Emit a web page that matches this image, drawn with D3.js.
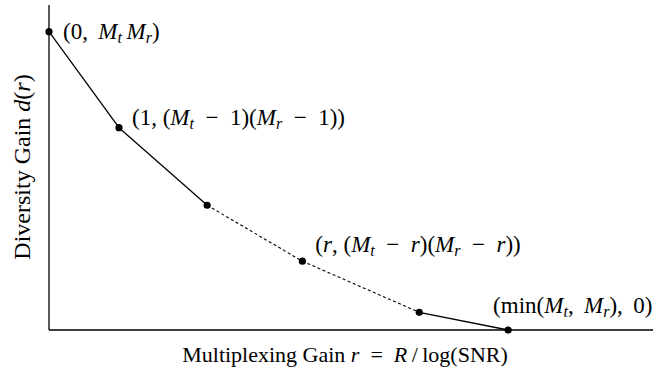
<!DOCTYPE html>
<html><head><meta charset="utf-8">
<script src="https://cdn.jsdelivr.net/npm/d3@7"></script>
<style>
html,body{margin:0;padding:0;background:#fff;}
</style></head><body>
<svg id="c" width="653" height="373"></svg>
<script>
// Data (schematic units)
const rValues = [0, 1, 2.26, 3.62, 5.29, 6.56];
const dValues = [16, 10.85, 6.69, 3.69, 0.95, 0];
const segmentDashed = [false, false, true, true, false];
const SP = "\u2002"; // en space (math spacing)
const TH = "\u2009"; // thin space
const pointLabels = [
  {i: 0, parts: [["(0,"+TH+" ",""],["M","i"],["t","sub"],[TH,""],["M","i"],["r","sub"],[")",""]]},
  {i: 1, parts: [["(1, (",""],["M","i"],["t","sub"],[SP+"−"+SP+"1)(",""],["M","i"],["r","sub"],[SP+"−"+SP+"1))",""]]},
  {i: 3, parts: [["(",""],["r","i"],[", (",""],["M","i"],["t","sub"],[SP+"−"+SP,""],["r","i"],[")(",""],["M","i"],["r","sub"],[SP+"−"+SP,""],["r","i"],["))",""]]},
  {i: 5, parts: [["(min(",""],["M","i"],["t","sub"],[","+TH+" ",""],["M","i"],["r","sub"],["),"+TH+" 0)",""]]}
];
const xTitle = [["Multiplexing Gain ",""],["r","i"],[SP+"="+SP,""],["R","i"],["\u2009/\u2009log(SNR)",""]];
const yTitle = [["Diversity Gain ",""],["d","i"],["(",""],["r","i"],[")",""]];

const FONT = "'Liberation Serif', 'DejaVu Serif', 'Times New Roman', serif";
const svg = d3.select("#c");
const x = d3.scaleLinear().domain([0, 8.63]).range([49, 653]);
const y = d3.scaleLinear().domain([0, 17.43]).range([330, 5]);

// axes
svg.append("line").attr("x1", x(0)).attr("x2", x(0)).attr("y1", y(17.43)).attr("y2", y(0))
  .attr("stroke","#000").attr("stroke-width",1.3);
svg.append("line").attr("x1", x(0)).attr("x2", x(8.63)).attr("y1", y(0)).attr("y2", y(0))
  .attr("stroke","#000").attr("stroke-width",1.3);

// segments
for (let k = 0; k < rValues.length - 1; k++) {
  svg.append("line")
    .attr("x1", x(rValues[k])).attr("y1", y(dValues[k]))
    .attr("x2", x(rValues[k+1])).attr("y2", y(dValues[k+1]))
    .attr("stroke","#000").attr("stroke-width", segmentDashed[k] ? 1.1 : 1.3)
    .attr("stroke-dasharray", segmentDashed[k] ? "3,2.5" : null);
}
// points
svg.selectAll("circle.pt").data(rValues).enter().append("circle")
  .attr("class","pt")
  .attr("cx", (d)=>x(d)).attr("cy", (d,i)=>y(dValues[i])).attr("r", 3.6).attr("fill","#000");

function richText(sel, parts, size) {
  sel.attr("font-family", FONT).attr("xml:space","preserve").style("white-space","pre");
  parts.forEach(([t, s]) => {
    const ts = sel.append("tspan").text(t).attr("font-family", FONT);
    if (s === "i") ts.attr("font-style","italic");
    if (s === "sub") ts.attr("font-style","italic").attr("font-size", size*0.7)
      .attr("baseline-shift", "-22%");
  });
}
const labelOffsets = {0:[14,7], 1:[13,-3], 3:[13,-9], 5:[-15,-17]};
pointLabels.forEach(l => {
  const t = svg.append("text")
    .attr("x", x(rValues[l.i]) + labelOffsets[l.i][0])
    .attr("y", y(dValues[l.i]) + labelOffsets[l.i][1])
    .attr("font-size", 23).attr("fill","#000");
  richText(t, l.parts, 23);
});

const xt = svg.append("text").attr("x", 345).attr("y", 362).attr("text-anchor","middle")
  .attr("font-size", 22);
richText(xt, xTitle, 22);
const yt = svg.append("text").attr("transform","translate(30,167) rotate(-90)")
  .attr("text-anchor","middle").attr("font-size", 24);
richText(yt, yTitle, 24);
</script>
</body></html>
